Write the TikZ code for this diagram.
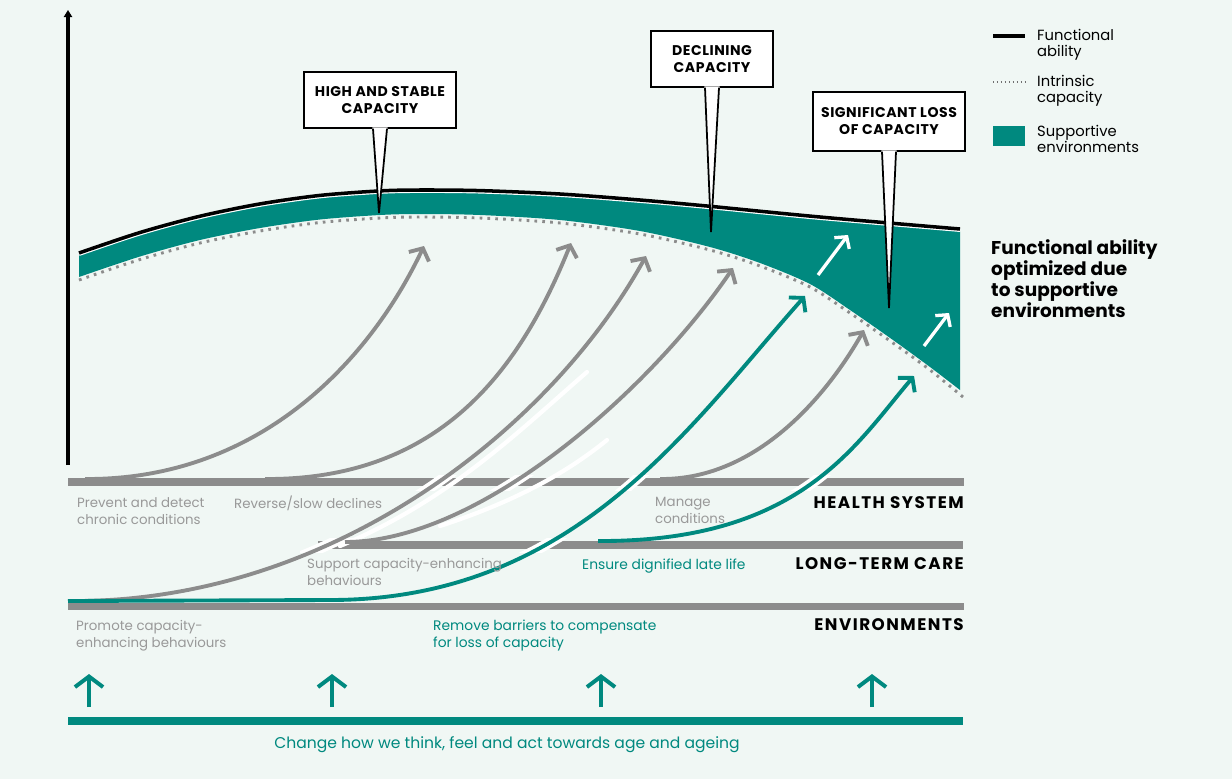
\documentclass[tikz,border=0pt]{standalone}
\usepackage{fontspec}
\setmainfont{Poppins}
\newfontfamily\spacedfont{Poppins}[LetterSpace=9]
\newfontfamily\callfont{Poppins}[LetterSpace=4]
\usetikzlibrary{arrows.meta,calc}
\definecolor{bgc}{HTML}{F0F7F4}
\definecolor{tealc}{HTML}{00897F}
\definecolor{arrgray}{HTML}{8C8C8C}
\definecolor{txtgray}{HTML}{999999}
\tikzset{
  gcurve/.style={draw=arrgray, line width=3.3pt, -{Straight Barb[length=8pt,width=19pt]}},
  tcurve/.style={draw=tealc, line width=3.3pt, -{Straight Barb[length=8pt,width=19pt]}},
  warrow/.style={draw=white, line width=2.8pt, -{Straight Barb[length=7pt,width=16pt]}},
  barrow/.style={draw=tealc, line width=3.4pt, -{Straight Barb[length=9pt,width=24pt]}},
  halo/.style={draw=white, line width=9pt},
  bar/.style={draw=arrgray, line width=6.6pt},
  callout/.style={draw=black, fill=white, line width=1.6pt, align=center, inner sep=0pt,
     font=\callfont\bfseries\fontsize{12}{14.5}\selectfont},
  glabel/.style={text=txtgray, align=left, inner sep=0pt, font=\fontsize{11.4}{14.5}\selectfont},
  tlabel/.style={text=tealc, align=left, inner sep=0pt, font=\fontsize{11.8}{14.5}\selectfont},
  syslabel/.style={text=black, inner sep=0pt, font=\spacedfont\bfseries\fontsize{14.3}{16}\selectfont},
  leglabel/.style={text=black, align=left, inner sep=0pt, font=\fontsize{12.6}{13.6}\selectfont},
}
\begin{document}
\begin{tikzpicture}[x=0.03cm,y=-0.03cm]
\fill[bgc] (0,0) rectangle (1232,779);
\useasboundingbox (0,0) rectangle (1232,779);

% supportive environment band
\fill[tealc] plot[smooth] coordinates {(79,255.5) (140,235) (200,218.7) (260,206.4) (320,197.9) (380,193.4) (420,192.5) (480,193.1) (560,196.5) (640,202.5) (707,208.5) (820,219.5) (960,231.5)}
  -- plot[smooth] coordinates {(960,390) (930,367) (893,340) (850,310) (810,284) (760,263) (710,247) (640,231) (560,220) (480,215) (420,214) (380,215) (320,219.5) (260,228) (200,240) (140,256.5) (79,277)} -- cycle;
% functional ability
\draw[white, line width=4pt] plot[smooth] coordinates {(79,253.6) (140,233.1) (200,216.8) (260,204.5) (320,196) (380,191.5) (420,190.6) (480,191.2) (560,194.6) (640,200.6) (707,206.6) (820,217.6) (960,229.6)};
\draw[black, line width=3pt] plot[smooth] coordinates {(79,253) (140,232.5) (200,216.2) (260,203.9) (320,195.4) (380,190.9) (420,190) (480,190.6) (560,194) (640,200) (707,206) (820,217) (960,229)};
% intrinsic capacity
\draw[arrgray, line width=2.5pt, dash pattern=on 2.3pt off 4.4pt] plot[smooth] coordinates {(79,280) (140,259.5) (200,243) (260,231) (320,222.5) (380,218) (420,217) (480,218) (560,223) (640,234) (710,250) (760,266) (810,287) (850,313) (893,343) (930,370) (963,397)};

% y axis
\coordinate (yb) at (68,465);
\coordinate (yt) at (68,10);
\draw[black, line width=2.6pt, -{Triangle[length=6pt,width=7pt]}] (yb) -- (yt);

% bars
\draw[bar] (68,482) -- (964,482);
\draw[bar] (318,545) -- (963,545);
\draw[bar] (68,606.5) -- (964,606.5);

% arrow coordinates
\coordinate (a1s) at (85,479);  \coordinate (a1e) at (424,246);
\coordinate (a2s) at (265,479); \coordinate (a2e) at (571,243);
\coordinate (a3s) at (70,601);  \coordinate (a3e) at (646,256);
\coordinate (a4s) at (345,542); \coordinate (a4e) at (733,268);
\coordinate (a5s) at (660,479); \coordinate (a5e) at (864,330);
\coordinate (t1s) at (68,601);  \coordinate (t1m) at (330,600); \coordinate (t1e) at (805,296);
\coordinate (t2s) at (598,541); \coordinate (t2e) at (914,376);

% halos cutting the bars
\begin{scope}
\clip (60,475) rectangle (970,490);
\draw[halo] (a3s) .. controls (330,603) and (550,430) .. (a3e);
\draw[halo] (a4s) .. controls (480,542) and (650,390) .. (a4e);
\draw[halo] (t1m) .. controls (575,600) and (690,425) .. (t1e);
\draw[halo] (t2s) .. controls (800,542) and (855,445) .. (t2e);
\end{scope}
\begin{scope}
\clip (300,538) rectangle (970,552);
\draw[halo] (a3s) .. controls (330,603) and (550,430) .. (a3e);
\draw[halo] (t1m) .. controls (575,600) and (690,425) .. (t1e);
\end{scope}
% white streaks
\draw[white, line width=3.6pt, line cap=round] (340,546) .. controls (450,500) and (520,430) .. (587,372);
\draw[white, line width=3.6pt, line cap=round] (440,526) .. controls (520,500) and (570,470) .. (607,440);

% grey arrows
\draw[gcurve] (a1s) .. controls (260,480) and (370,360) .. (a1e);
\draw[gcurve] (a2s) .. controls (440,480) and (520,370) .. (a2e);
\draw[gcurve] (a3s) .. controls (330,603) and (550,430) .. (a3e);
\draw[gcurve] (a4s) .. controls (480,542) and (650,390) .. (a4e);
\draw[gcurve] (a5s) .. controls (760,480) and (830,390) .. (a5e);
% teal arrows
\draw[tcurve] (t1s) -- (t1m) .. controls (575,600) and (690,425) .. (t1e);
\draw[tcurve] (t2s) .. controls (800,542) and (855,445) .. (t2e);

% white arrows in the band
\coordinate (w1s) at (818,275); \coordinate (w1e) at (848,235);
\coordinate (w2s) at (924,346); \coordinate (w2e) at (949,313);
\draw[warrow] (w1s) -- (w1e);
\draw[warrow] (w2s) -- (w2e);

% callouts
\node[callout, minimum width=4.56cm, minimum height=1.68cm] (c1) at (380,100) {HIGH AND STABLE\\CAPACITY};
\node[callout, minimum width=3.66cm, minimum height=1.68cm] (c2) at (712,59) {DECLINING\\CAPACITY};
\node[callout, minimum width=4.56cm, minimum height=1.77cm] (c3) at (889,121.5) {SIGNIFICANT LOSS\\OF CAPACITY};
\coordinate (p1) at (379,213);
\coordinate (p2) at (711,232);
\coordinate (p3) at (889,308);
\foreach \c/\p in {c1/p1,c2/p2,c3/p3}{
  \fill[white] ($(\c.south)+(-7.6,-1.6)$) -- (\p) -- ($(\c.south)+(7.6,-1.6)$) -- cycle;
  \draw[black, line width=1.5pt, line join=miter] ($(\c.south)+(-7,-0.2)$) -- (\p) -- ($(\c.south)+(7,-0.2)$);
}

% legend
\coordinate (lg1a) at (993,36); \coordinate (lg1b) at (1025,36);
\coordinate (lg2a) at (993,82); \coordinate (lg2b) at (1025,82);
\draw[black, line width=2.6pt] (lg1a) -- (lg1b);
\draw[arrgray!80!black, line width=1.3pt, dash pattern=on 1.2pt off 2.2pt] (lg2a) -- (lg2b);
\fill[tealc] (993,126) rectangle (1025,146);
\node[leglabel, anchor=west] (lf) at (1037,45) {Functional\\ability};
\node[leglabel, anchor=west] (li) at (1037,91) {Intrinsic\\capacity};
\node[leglabel, anchor=west] (ls) at (1037,138.5) {Supportive\\environments};
\node[anchor=west, align=left, inner sep=0pt, font=\bfseries\fontsize{15.8}{18}\selectfont] (opt) at (991,278.5) {Functional ability\\optimized due\\to supportive\\environments};

% labels
\node[glabel, anchor=west] (l1) at (77,511) {Prevent and detect\\chronic conditions};
\node[glabel, anchor=west] (l2) at (234,503.5) {Reverse/slow declines};
\node[glabel, anchor=west] (l3) at (655,510) {Manage\\conditions};
\node[glabel, anchor=west] (l4) at (307,572) {Support capacity-enhancing\\behaviours};
\node[tlabel, anchor=west] (l5) at (582,566) {Ensure dignified late life};
\node[glabel, anchor=west] (l6) at (76,635.5) {Promote capacity-\\enhancing behaviours};
\node[tlabel, anchor=west] (l7) at (433,635.5) {Remove barriers to compensate\\for loss of capacity};
\node[syslabel, anchor=east] (hs) at (964,502.5) {HEALTH SYSTEM};
\node[syslabel, anchor=east] (lt) at (964,563.5) {LONG-TERM CARE};
\node[syslabel, anchor=east] (en) at (964,624.5) {ENVIRONMENTS};

% bottom
\draw[draw=tealc, line width=6.8pt] (68,721) -- (963,721);
\foreach \x [count=\i] in {89,332,601,872}{
  \coordinate (bs\i) at (\x,707);
  \coordinate (be\i) at (\x,674);
  \draw[barrow] (bs\i) -- (be\i);
}
\node[text=tealc, inner sep=0pt, font=\fontsize{13.3}{15}\selectfont] (chg) at (507,744.5) {Change how we think, feel and act towards age and ageing};
\end{tikzpicture}
\end{document}
